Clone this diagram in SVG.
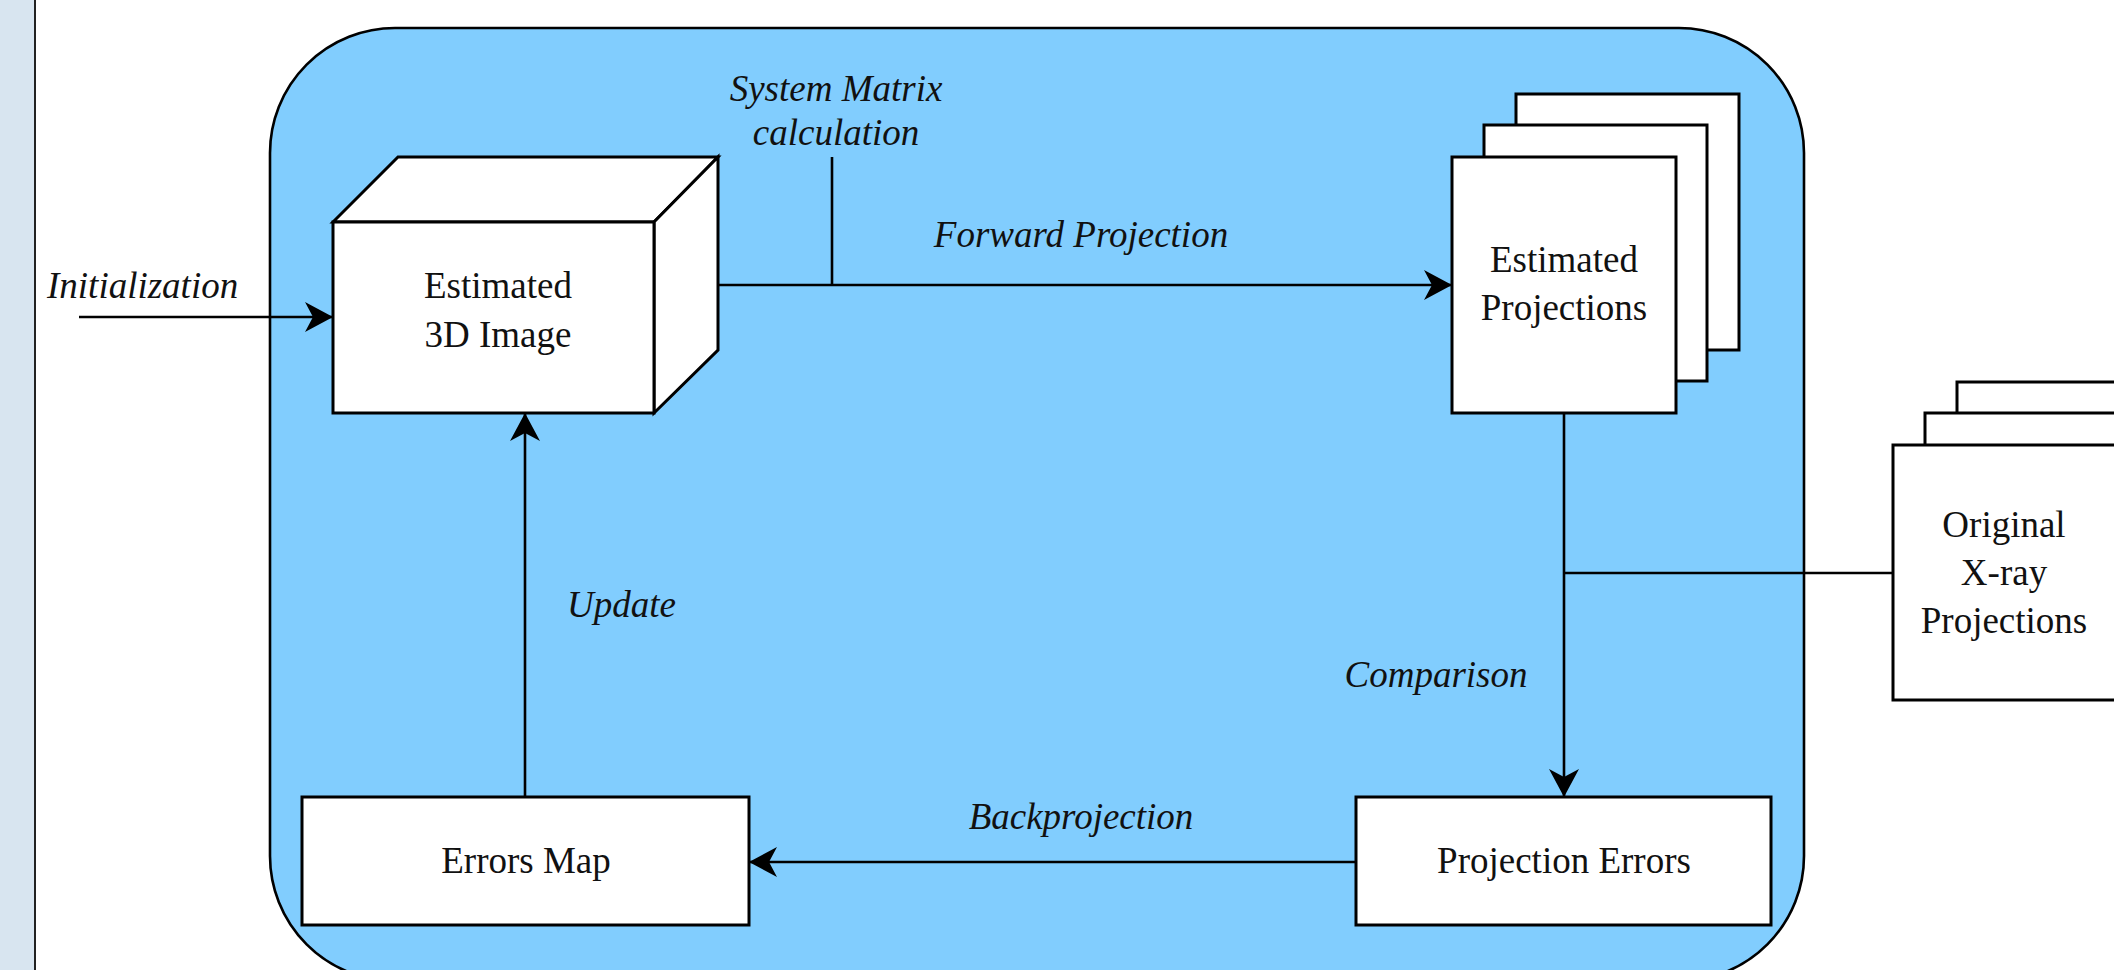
<svg xmlns="http://www.w3.org/2000/svg" width="2114" height="970" viewBox="0 0 2114 970">
<style>
.box{fill:#ffffff;stroke:#000;stroke-width:3}
.ln{fill:none;stroke:#000;stroke-width:2.6}
.t{font-family:"Liberation Serif","Times New Roman",serif;font-size:37px;fill:#111;text-anchor:middle}
.i{font-style:italic}
</style>
<defs>
<marker id="arr" viewBox="-30 -17 32 34" refX="0" refY="0" markerWidth="32" markerHeight="34" orient="auto" markerUnits="userSpaceOnUse">
<path d="M0,0 L-28,-15 L-20,0 L-28,15 Z" fill="#000"/>
</marker>
</defs>
<rect x="0" y="0" width="2114" height="970" fill="#ffffff"/>
<g id="sidebar">
<rect x="0" y="0" width="35" height="970" fill="#d8e5f0"/>
<line x1="35" y1="0" x2="35" y2="970" stroke="#222" stroke-width="2"/>
</g>
<g id="container">
<rect x="270" y="28" width="1534" height="953" rx="125" ry="125" fill="#81cdfe" stroke="#000" stroke-width="2.6"/>
</g>
<g id="estimated-3d-image">
<polygon class="box" points="333,222 398,157 718,157 654,222"/>
<polygon class="box" points="654,222 718,157 718,350 654,413"/>
<rect class="box" x="333" y="222" width="321" height="191"/>
<text class="t" x="498" y="298">Estimated</text>
<text class="t" x="498" y="347">3D Image</text>
</g>
<g id="estimated-projections">
<rect class="box" x="1516" y="94" width="223" height="256"/>
<rect class="box" x="1484" y="125" width="223" height="256"/>
<rect class="box" x="1452" y="157" width="224" height="256"/>
<text class="t" x="1564" y="272">Estimated</text>
<text class="t" x="1564" y="320">Projections</text>
</g>
<g id="original-xray-projections">
<rect class="box" x="1957" y="382" width="224" height="256"/>
<rect class="box" x="1925" y="413" width="224" height="256"/>
<rect class="box" x="1893" y="445" width="224" height="255"/>
<text class="t" x="2004" y="537">Original</text>
<text class="t" x="2004" y="585">X-ray</text>
<text class="t" x="2004" y="633">Projections</text>
</g>
<g id="projection-errors">
<rect class="box" x="1356" y="797" width="415" height="128"/>
<text class="t" x="1564" y="873">Projection Errors</text>
</g>
<g id="errors-map">
<rect class="box" x="302" y="797" width="447" height="128"/>
<text class="t" x="526" y="873">Errors Map</text>
</g>
<g id="connectors">
<line class="ln" x1="79" y1="317" x2="333" y2="317" marker-end="url(#arr)"/>
<line class="ln" x1="718" y1="285" x2="1452" y2="285" marker-end="url(#arr)"/>
<line class="ln" x1="832" y1="157" x2="832" y2="285"/>
<line class="ln" x1="1564" y1="413" x2="1564" y2="797" marker-end="url(#arr)"/>
<line class="ln" x1="1564" y1="573" x2="1893" y2="573"/>
<line class="ln" x1="1356" y1="862" x2="749" y2="862" marker-end="url(#arr)"/>
<line class="ln" x1="525" y1="797" x2="525" y2="413" marker-end="url(#arr)"/>
</g>
<g id="labels">
<text class="t i" x="47" y="298" style="text-anchor:start">Initialization</text>
<text class="t i" x="836" y="101">System Matrix</text>
<text class="t i" x="836" y="145">calculation</text>
<text class="t i" x="1081" y="247">Forward Projection</text>
<text class="t i" x="1436" y="687">Comparison</text>
<text class="t i" x="1081" y="829">Backprojection</text>
<text class="t i" x="567" y="617" style="text-anchor:start">Update</text>
</g>
</svg>
